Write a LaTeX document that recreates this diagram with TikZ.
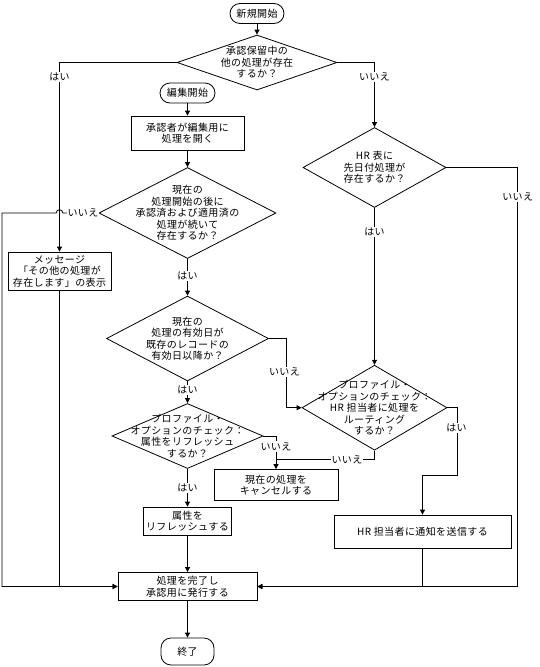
\documentclass[tikz,border=0pt]{standalone}
\usepackage{fontspec}
\setmainfont{Noto Sans CJK JP}[LetterSpace=4]
\usetikzlibrary{arrows.meta,calc,shapes.geometric}

\begin{document}
\begin{tikzpicture}[x=1pt, y=1pt, line width=0.8pt,
    >={Triangle[length=5pt,width=5pt]},
    every node/.style={font=\fontsize{10}{11.5}\selectfont, align=center},
    proc/.style={rectangle, draw, inner sep=0pt},
    term/.style={rectangle, draw, rounded corners=10pt, inner sep=0pt},
    decision/.style={diamond, draw, inner sep=0pt},
    ans/.style={fill=white, inner sep=1pt}]
    \useasboundingbox (0,0) rectangle (539,-667);
    \coordinate (lb) at (2,0);
    \coordinate (rb) at (517.7,0);

    \node[term, minimum width=54pt, minimum height=20pt] (start) at (257,-13.5) {新規開始};
    \node[decision, minimum width=160pt, minimum height=55pt,
        label={center:{承認保留中の\\他の処理が存在\\するか？}}] (d1) at (257,-62.5) {};
    \node[term, minimum width=55pt, minimum height=20pt] (edit) at (187.5,-93) {編集開始};
    \node[proc, minimum width=113pt, minimum height=34pt] (open) at (187.5,-133) {承認者が編集用に\\処理を開く};
    \node[decision, minimum width=177pt, minimum height=91pt,
        label={center:{現在の\\処理開始の後に\\承認済および適用済の\\処理が続いて\\存在するか？}}] (d3) at (187.5,-213) {};
    \node[proc, minimum width=103pt, minimum height=38pt] (msg) at (59.5,-271) {メッセージ\\「その他の処理が\\存在します」の表示};
    \node[decision, minimum width=162pt, minimum height=85pt,
        label={center:{現在の\\処理の有効日が\\既存のレコードの\\有効日以降か？}}] (d5) at (187.5,-338.5) {};
    \node[decision, minimum width=151pt, minimum height=65pt,
        label={center:{プロファイル・\\オプションのチェック：\\属性をリフレッシュ\\するか？}}] (d6) at (187.5,-436) {};
    \node[proc, minimum width=124pt, minimum height=31pt] (cancel) at (276,-485) {現在の処理を\\キャンセルする};
    \node[proc, minimum width=88pt, minimum height=28pt] (refresh) at (187.5,-521) {属性を\\リフレッシュする};
    \node[proc, minimum width=139pt, minimum height=28pt] (done) at (187.5,-586.5) {処理を完了し\\承認用に発行する};
    \node[term, minimum width=53pt, minimum height=27pt] (end) at (187.5,-651.5) {終了};
    \node[decision, minimum width=143pt, minimum height=80pt,
        label={center:{HR 表に\\先日付処理が\\存在するか？}}] (d2) at (374.5,-167.5) {};
    \node[decision, minimum width=145pt, minimum height=85pt,
        label={center:{プロファイル・\\オプションのチェック：\\HR 担当者に処理を\\ルーティング\\するか？}}] (d4) at (374.5,-407.7) {};
    \node[proc, minimum width=177pt, minimum height=33pt] (hr) at (422.5,-531.5) {HR 担当者に通知を送信する};

    \draw[->] (start.south) -- (d1.north);
    \draw[->] (d1.west) -| (msg.north);
    \draw[->] (d1.east) -| (d2.north);
    \draw[->] (edit.south) -- (open.north);
    \draw[->] (open.south) -- (d3.north);
    \draw[->] (d3.west) -- ($(d3.west -| msg.north)+(3.3,0)$) arc[start angle=0, end angle=180, radius=3.3]
        -- (d3.west -| lb) |- (done.west);
    \draw[->] (msg.south) |- (done.west);
    \draw[->] (d3.south) -- (d5.north);
    \draw[->] (d5.east) -- ++(17,0) |- (d4.west);
    \draw[->] (d5.south) -- (d6.north);
    \draw[->] (d6.east) -| (cancel.north);
    \draw (d4.south) |- ($(cancel.north)+(0,9.5)$);
    \draw[->] (d4.east) -- ++(9.5,0) -- ++(0,-67.3) -| (hr.north);
    \draw[->] (d6.south) -- (refresh.north);
    \draw[->] (refresh.south) -- (done.north);
    \draw[->] (done.south) -- (end.north);
    \draw[->] (d2.south) -- (d4.north);
    \draw[->] (d2.east) -- (d2.east -| rb) |- (done.east);
    \draw[->] (hr.south) |- (done.east);

    \node[ans] (a1) at (59.5,-77) {はい};
    \node[ans] (a2) at (374.5,-77) {いいえ};
    \node[ans, inner sep=0.5pt] (a3) at (83,-213) {いいえ};
    \node[ans] (a4) at (517.7,-197) {いいえ};
    \node[ans] (a5) at (374.5,-232) {はい};
    \node[ans] (a6) at (187.5,-276) {はい};
    \node[ans] (a7) at (284.5,-372) {いいえ};
    \node[ans] (a8) at (187.5,-390) {はい};
    \node[ans] (a9) at (276,-446.5) {いいえ};
    \node[ans] (a10) at (347,-460) {いいえ};
    \node[ans] (a11) at (456.5,-428) {はい};
    \node[ans] (a12) at (187.5,-488) {はい};
\end{tikzpicture}
\end{document}
